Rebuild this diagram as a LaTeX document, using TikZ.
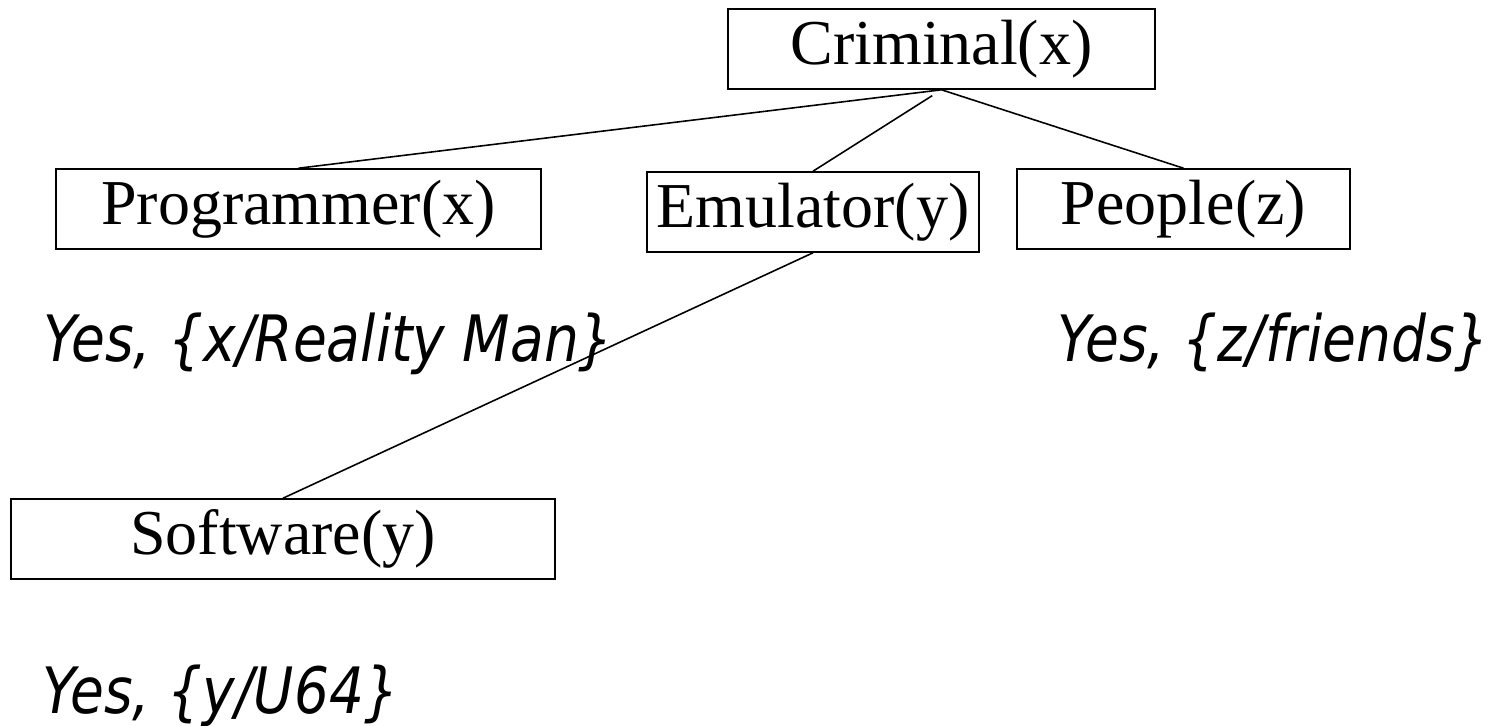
\documentclass[tikz,border=0pt]{standalone}
\usepackage{fontspec}
\setmainfont{Liberation Serif}
\newfontfamily\yesfont[FakeStretch=0.86]{DejaVu Sans}
\tikzset{pr/.style = {rectangle, draw, line width=0.9pt, minimum height=1.6cm, inner sep=0pt, font=\fontsize{36.4}{40}\selectfont},
         an/.style = {anchor=base west, inner sep=0pt, font=\yesfont\itshape\fontsize{36.4}{40}\selectfont}}

\begin{document}
\begin{tikzpicture}[line width=0.9pt]
    \useasboundingbox (0,0) rectangle (29.96,-14.52);
    \node[pr, minimum width=8.54cm]  (crim) at (18.83,-0.98)  {Criminal(x)};
    \node[pr, minimum width=9.70cm]  (prog) at (5.97,-4.18)   {Programmer(x)};
    \node[pr, minimum width=6.64cm]  (emu)  at (16.26,-4.24)  {Emulator(y)};
    \node[pr, minimum width=6.66cm]  (ppl)  at (23.67,-4.18)  {People(z)};
    \node[pr, minimum width=10.88cm] (soft) at (5.66,-10.78)  {Software(y)};
    \node[an] (ansx) at (0.86,-7.22)  {Yes, \{x/Reality Man\}};
    \node[an] (ansz) at (21.14,-7.22) {Yes, \{z/friends\}};
    \node[an] (ansy) at (0.84,-14.26) {Yes, \{y/U64\}};
    \draw (crim.south) to (prog.north);
    \draw[shorten <=0.22cm] (crim.south) to (emu.north);
    \draw (crim.south) to (ppl.north);
    \draw (emu.south) to (soft.north);
\end{tikzpicture}
\end{document}
